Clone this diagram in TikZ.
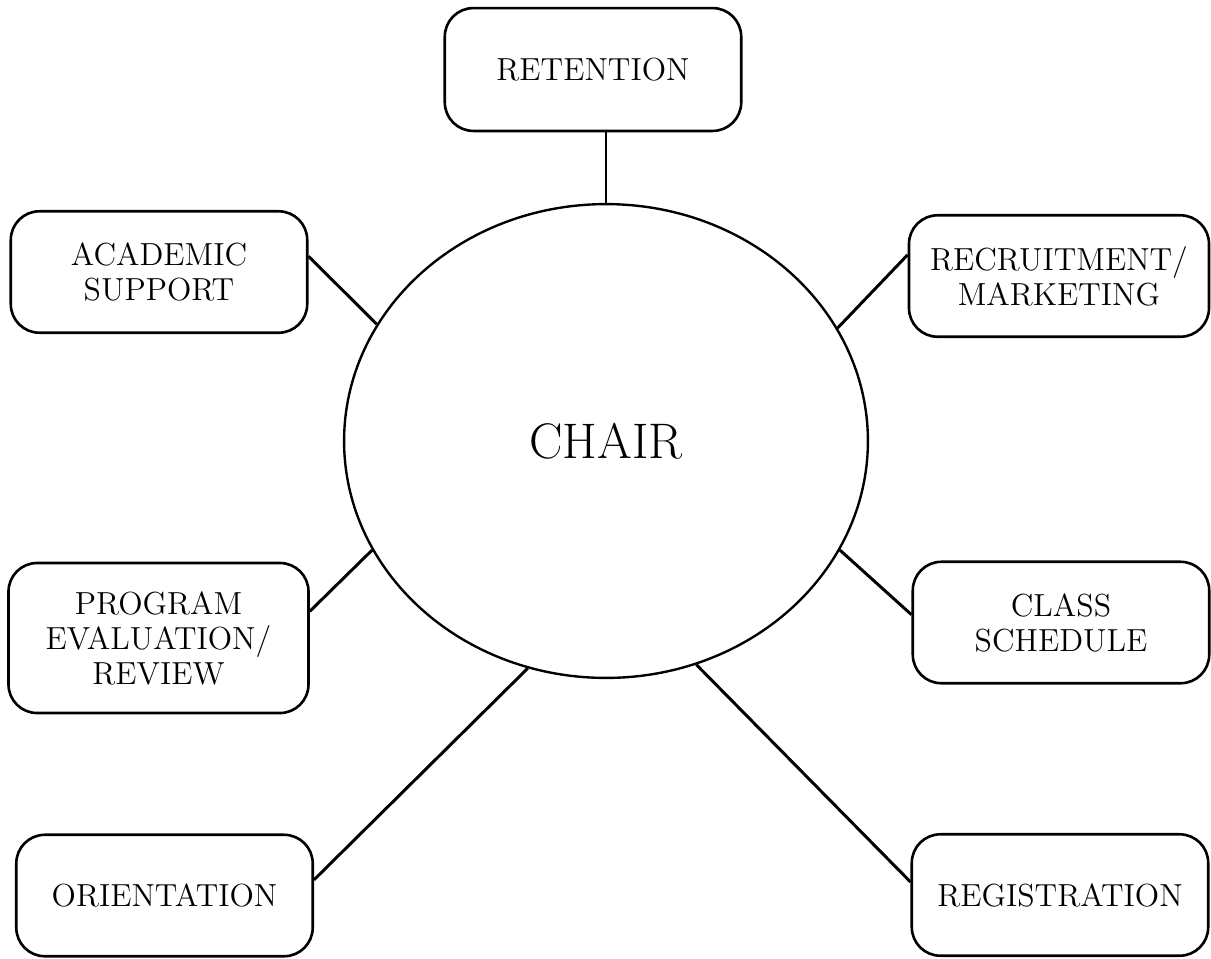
\documentclass[tikz,border=0pt]{standalone}
\usetikzlibrary{positioning, shapes.geometric}

\begin{document}
\begin{tikzpicture}[
    x=0.42pt, y=-0.42pt,
    % rounded task boxes
    taskbox/.style={
        draw=black,
        line width=1.1pt,
        rounded corners=12pt,
        fill=white,
        align=center,
        font=\fontsize{13.4}{14.7}\selectfont,
        minimum width=124.5pt,
        minimum height=51pt
    },
    % the central ellipse
    hub/.style={
        draw=black,
        line width=1pt,
        ellipse,
        minimum width=220pt,
        minimum height=199pt,
        font=\fontsize{21}{25}\selectfont
    },
    % connector lines
    link/.style={
        line width=1.25pt
    }
]
    \useasboundingbox (0,0) rectangle (1211,958);

    % --- 1. centre ---
    \node[hub] (chair) at (606,441) {CHAIR};

    % --- 2. boxes round the centre ---
    \node[taskbox, minimum height=51.6pt] (ret) at (593,69.5) {RETENTION};
    \node[taskbox] (acad) at (159,272) {ACADEMIC\\SUPPORT};
    \node[taskbox, minimum width=126pt] (recr) at (1059,276) {RECRUITMENT/\\MARKETING};
    \node[taskbox, minimum width=126pt, minimum height=63pt] (prog) at (158.5,638) {PROGRAM\\EVALUATION/\\REVIEW};
    \node[taskbox] (cls) at (1061,622.5) {CLASS\\SCHEDULE};
    \node[taskbox] (orient) at (164.5,895.5) {ORIENTATION};
    \node[taskbox] (reg) at (1060,895) {REGISTRATION};

    % --- 3. connectors ---
    \draw[link] (ret.south -| chair.north) -- (chair.north);
    \draw[link] (acad.6) -- (chair.153);
    \draw[link] (recr.172) -- (chair.26);
    \draw[link] (prog.10) -- (chair.205);
    \draw[link] (cls.177) -- (chair.335);
    \draw[link] (orient.6) -- (chair.251);
    \draw[link] (reg.175) -- (chair.292);

\end{tikzpicture}
\end{document}
